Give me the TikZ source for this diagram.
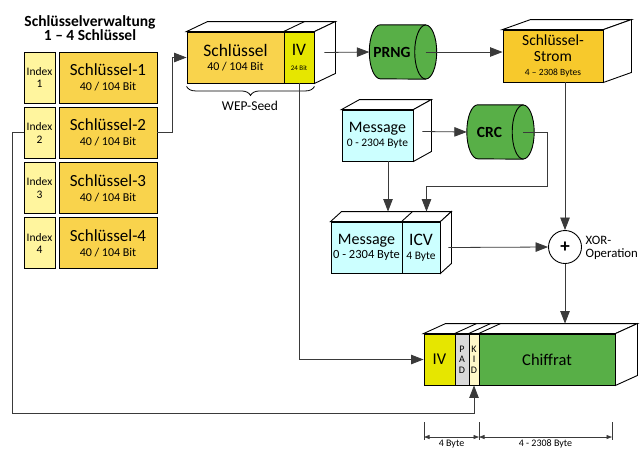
\documentclass[tikz,border=0pt]{standalone}
\usepackage{fontspec}
\setmainfont{Carlito}
\usetikzlibrary{arrows.meta,calc,decorations.pathreplacing}

\definecolor{keygold}{HTML}{F9D34C}
\definecolor{stromgold}{HTML}{F7C92C}
\definecolor{idxyellow}{HTML}{FFF59E}
\definecolor{ivyellow}{HTML}{E6E600}
\definecolor{cylgreen}{HTML}{58AF47}
\definecolor{msgcyan}{HTML}{CCFFFF}
\definecolor{padgray}{HTML}{D9D9D9}
\definecolor{kidyellow}{HTML}{FFF8C8}
\definecolor{linegray}{HTML}{3A3A3A}

\tikzset{
  box/.style={draw, line width=0.9pt, inner sep=0pt, align=center},
  idxbox/.style={box, fill=idxyellow, minimum width=31, minimum height=51, font=\fontsize{11.5}{12.5}\selectfont},
  keybox/.style={box, fill=keygold, minimum width=98, minimum height=51, font=\fontsize{17}{17}\selectfont},
  msgbox/.style={box, fill=msgcyan, minimum height=51, font=\fontsize{16}{16}\selectfont},
  cylnode/.style={inner sep=0pt, minimum width=45, minimum height=54, font=\bfseries\fontsize{15.5}{15.5}\selectfont},
  flow/.style={draw=linegray, line width=0.8pt, -{Triangle[length=12.5pt,width=9.5pt]}},
  dimarrow/.style={draw=linegray, line width=0.7pt, {Triangle[length=5.5pt,width=4pt]}-{Triangle[length=5.5pt,width=4pt]}},
  dimlabel/.style={font=\fontsize{10}{10}\selectfont}
}

% depth faces of a flat box: left node, right node, dx, dy
\newcommand{\boxdepth}[4]{%
  \draw[line width=0.9pt, fill=white] (#1.north west) -- ++(#3,#4) -- ($(#2.north east)+(#3,#4)$) -- (#2.north east) -- cycle;
  \draw[line width=0.9pt, fill=white] (#2.north east) -- ++(#3,#4) -- ($(#2.south east)+(#3,#4)$) -- (#2.south east) -- cycle;}

% cylinder lying on its side round a node
\newcommand{\cylshape}[1]{%
  \draw[line width=0.9pt, fill=cylgreen] ($(#1.north east)+(11,0)$) -- ($(#1.north west)+(11,0)$)
    arc[start angle=270, end angle=90, x radius=11, y radius=27] -- ($(#1.south east)+(11,0)$) -- cycle;
  \draw[line width=0.9pt, fill=cylgreen] ($(#1.east)+(11,0)$) ellipse[x radius=11, y radius=27];}

\begin{document}
\begin{tikzpicture}[x=1pt,y=-1pt]
\useasboundingbox (0,0) rectangle (644,451);

% key management
\node[align=center, font=\bfseries\fontsize{15.5}{14.5}\selectfont] (title) at (90,28) {Schlüsselverwaltung\\1 – 4 Schlüssel};
\foreach \i in {1,...,4} {
  \pgfmathsetmacro\rowy{77.5+55.3*(\i-1)}
  \node[idxbox] (idx\i) at (39.5,\rowy) {Index\\\i};
  \node[keybox] (key\i) at (108,\rowy) {Schlüssel-\i\\[-2pt]{\fontsize{12}{12}\selectfont 40 / 104 Bit}};
}

% WEP seed
\node[box, fill=keygold, minimum width=97, minimum height=51, font=\fontsize{17.5}{17.5}\selectfont] (seedkey) at (235.5,57.5)
  {Schlüssel\\[-3pt]{\fontsize{12}{12}\selectfont 40 / 104 Bit}};
\node[box, fill=ivyellow, minimum width=30, minimum height=51, font=\fontsize{17.5}{17.5}\selectfont] (seediv) at (299,57.5)
  {IV\\[-3pt]{\fontsize{7}{7}\selectfont 24 Bit}};
\boxdepth{seedkey}{seediv}{21}{-10}
\draw[line width=0.9pt] (seediv.north west) -- ++(21,-10);
\draw[line width=0.8pt, decorate, decoration={brace, amplitude=9pt}]
  ($(seediv.south east)+(0,3)$) -- ($(seedkey.south west)+(0,3)$);
\node[font=\fontsize{13.5}{13.5}\selectfont] (seedlbl) at (250,106) {WEP-Seed};

% PRNG and key stream
\node[cylnode] (prng) at (392,52) {};
\cylshape{prng}
\node[cylnode] at (prng) {PRNG};
\node[box, fill=stromgold, minimum width=100, minimum height=52, font=\fontsize{15.5}{15.5}\selectfont] (strom) at (553,56)
  {Schlüssel-\\Strom\\[-1pt]{\fontsize{9.5}{9.5}\selectfont 4 – 2308 Bytes}};
\boxdepth{strom}{strom}{28}{-10}

% message and CRC
\node[msgbox, minimum width=71] (msg) at (377.5,135.5) {Message\\[-2pt]{\fontsize{11.5}{11.5}\selectfont 0 - 2304 Byte}};
\boxdepth{msg}{msg}{18}{-10}
\node[cylnode] (crc) at (489.5,132) {};
\cylshape{crc}
\node[cylnode] at (crc) {CRC};

\node[msgbox, minimum width=71] (msgb) at (366.5,247.5) {Message\\[-2pt]{\fontsize{12.5}{12.5}\selectfont 0 - 2304 Byte}};
\node[msgbox, minimum width=38, font=\fontsize{17.5}{17.5}\selectfont] (icv) at (421,247.5) {ICV\\[-3pt]{\fontsize{11.5}{11.5}\selectfont 4 Byte}};
\boxdepth{msgb}{icv}{11}{-10}
\draw[line width=0.9pt] (icv.north west) -- ++(11,-10);

% XOR
\node[draw, line width=0.9pt, circle, minimum size=33, inner sep=0pt, font=\bfseries\fontsize{19}{19}\selectfont] (xor) at (565,247) {+};
\node[anchor=west, align=left, font=\fontsize{12.8}{12.5}\selectfont] (xorlbl) at (582,248) {XOR-\\Operation};

% output frame
\node[box, fill=ivyellow, minimum width=31, minimum height=51, font=\fontsize{16.5}{16.5}\selectfont] (ivout) at (439.5,359.5) {IV};
\node[box, fill=padgray, minimum width=14, minimum height=51, font=\fontsize{10}{10.5}\selectfont] (pad) at (462,359.5) {P\\A\\D};
\node[box, fill=kidyellow, minimum width=10, minimum height=51, font=\fontsize{10}{10.5}\selectfont] (kid) at (474,359.5) {K\\I\\D};
\node[box, fill=cylgreen, minimum width=136, minimum height=51, font=\fontsize{16.5}{16.5}\selectfont] (chiff) at (547,359.5) {Chiffrat};
\boxdepth{ivout}{chiff}{22}{-10}
\draw[line width=0.9pt] (pad.north west) -- ++(22,-10);
\draw[line width=0.9pt] (kid.north west) -- ++(22,-10);
\draw[line width=0.9pt] (chiff.north west) -- ++(22,-10);

% connectors
\draw[flow] (key2.east) -- ++(15,0) |- (seedkey.west);
\draw[flow] (idx2.west) -- ++(-11,0) -- ++(0,281) -| (kid.south);
\draw[flow] ($(seediv.east)+(10,-5)$) -- (prng.west);
\draw[flow] ($(prng.east)+(11,0)$) coordinate (prngout) -- (prngout -| strom.west);
\draw[flow] (xor.north |- strom.south) -- (xor.north);
\draw[flow] ($(msg.east)+(9,-4)$) -- (crc.west);
\coordinate (icvtop) at ($(icv.north)+(5.5,-10)$);
\draw[flow] ($(crc.east)+(11,0)$) -- ++(24,0) -- ++(0,54) -| (icvtop);
\draw[flow] ($(msg.south)+(10.5,0)$) coordinate (msgdown) -- (msgdown |- icvtop);
\draw[flow] ($(icv.east)+(8,0)$) -- (xor.west);
\coordinate (chifftop) at ($(chiff.north)+(11,-10)$);
\draw[flow] (xor.south) -- (xor.south |- chifftop);
\draw[flow] (seediv.south) |- (ivout.west);

% dimensions
\draw[linegray, line width=0.7pt] (424,422) -- (424,440);
\draw[linegray, line width=0.7pt] (479,422) -- (479,440);
\draw[linegray, line width=0.7pt] (612,422) -- (612,440);
\draw[dimarrow] (424,437) -- (479,437);
\draw[dimarrow] (479,437) -- (612,437);
\node[dimlabel] (dimiv) at (451.5,444) {4 Byte};
\node[dimlabel] (dimchiff) at (545.5,444) {4 - 2308 Byte};
\end{tikzpicture}
\end{document}
